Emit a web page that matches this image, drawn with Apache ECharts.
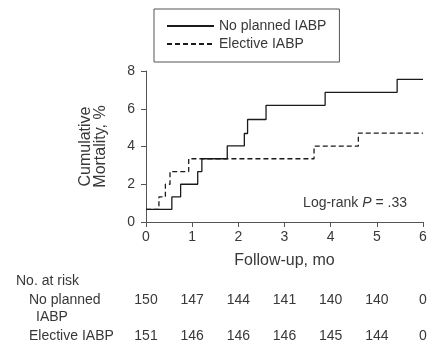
<!DOCTYPE html>
<html>
<head>
<meta charset="utf-8">
<script src="https://cdn.jsdelivr.net/npm/echarts@6/dist/echarts.min.js"></script>
<style>
html,body{margin:0;padding:0;background:#fff;}
#main{width:437px;height:348px;}
</style>
</head>
<body>
<div id="main"></div>
<script>
// Data
const seriesNames = ['No planned IABP', 'Elective IABP'];
const noPlannedTimes = [0, 0.56, 0.75, 1.12, 1.21, 1.76, 2.13, 2.2, 2.6, 3.88, 5.44, 6];
const noPlannedValues = [0.67, 1.33, 2.0, 2.67, 3.35, 4.03, 4.69, 5.43, 6.18, 6.87, 7.56, 7.56];
const electiveTimes = [0, 0.28, 0.42, 0.52, 0.925, 3.64, 4.6, 6];
const electiveValues = [0.67, 1.33, 2.0, 2.67, 3.35, 4.02, 4.71, 4.71];
const riskTimes = [0, 1, 2, 3, 4, 5, 6];
const riskNoPlanned = [150, 147, 144, 141, 140, 140, 0];
const riskElective = [151, 146, 146, 146, 145, 144, 0];
const xTicks = [0, 1, 2, 3, 4, 5, 6];
const yTicks = [0, 2, 4, 6, 8];

const FONT = '"Liberation Sans", Arial, sans-serif';
const TXT = '#383838';

function pairs(t, v) { return t.map((x, i) => [x, v[i]]); }

const chart = echarts.init(document.getElementById('main'), null, { renderer: 'canvas' });

chart.setOption({
  animation: false,
  textStyle: { fontFamily: FONT, color: TXT },
  grid: { left: 146, right: 14, top: 71, bottom: 126, containLabel: false },
  legend: {
    left: 154, top: 9, orient: 'vertical',
    itemGap: 4, itemWidth: 47, itemHeight: 14,
    padding: [10, 13, 11, 12],
    borderColor: '#555', borderWidth: 1,
    itemStyle: { opacity: 0, borderWidth: 0 },
    lineStyle: { opacity: 1 },
    textStyle: { fontFamily: FONT, fontSize: 14, color: TXT },
    data: seriesNames
  },
  xAxis: {
    type: 'value', min: xTicks[0], max: xTicks[xTicks.length - 1], interval: 1,
    name: 'Follow-up, mo', nameLocation: 'middle', nameGap: 31,
    nameTextStyle: { fontFamily: FONT, fontSize: 16, color: TXT },
    axisLine: { lineStyle: { color: '#555', width: 1 } },
    axisTick: { show: true, inside: false, length: 5, lineStyle: { color: '#555' } },
    axisLabel: { fontFamily: FONT, fontSize: 14, color: TXT, margin: 8 },
    splitLine: { show: false }
  },
  yAxis: {
    type: 'value', min: yTicks[0], max: yTicks[yTicks.length - 1], interval: 2,
    offset: 3,
    name: 'Cumulative\nMortality, %', nameLocation: 'middle', nameGap: 35,
    nameTextStyle: { fontFamily: FONT, fontSize: 16, color: TXT, lineHeight: 15 },
    axisLine: { show: true, lineStyle: { color: '#555', width: 1 } },
    axisTick: { show: true, inside: false, length: 5, lineStyle: { color: '#555' } },
    axisLabel: { fontFamily: FONT, fontSize: 14, color: TXT, margin: 8 },
    splitLine: { show: false }
  },
  series: [
    {
      name: seriesNames[0], type: 'line', step: 'end', symbol: 'none',
      lineStyle: { color: '#1a1a1a', width: 1.3, type: 'solid' },
      itemStyle: { color: '#1a1a1a' },
      data: pairs(noPlannedTimes, noPlannedValues)
    },
    {
      name: seriesNames[1], type: 'line', step: 'end', symbol: 'none',
      lineStyle: { color: '#1a1a1a', width: 1.3, type: [5, 3] },
      itemStyle: { color: '#1a1a1a' },
      data: pairs(electiveTimes, electiveValues)
    }
  ]
});

// Risk table and annotation
const graphics = [];
const txt = (x, y, s, align) => ({
  type: 'text', x: x, y: y,
  style: { text: s, fontFamily: FONT, fontSize: 14, fill: TXT, align: align || 'left', verticalAlign: 'middle' }
});
graphics.push(txt(16, 281, 'No. at risk'));
graphics.push(txt(29, 300, 'No planned'));
graphics.push(txt(36, 317, 'IABP'));
graphics.push(txt(29, 336, 'Elective IABP'));
riskTimes.forEach((t, i) => {
  const px = chart.convertToPixel({ xAxisIndex: 0 }, t);
  graphics.push(txt(px, 300, String(riskNoPlanned[i]), 'center'));
  graphics.push(txt(px, 336, String(riskElective[i]), 'center'));
});
graphics.push({
  type: 'text', x: 407, y: 203,
  style: {
    text: '{a|Log-rank }{b|P}{a| = .33}',
    align: 'right', verticalAlign: 'middle',
    rich: {
      a: { fontFamily: FONT, fontSize: 14, fill: TXT, color: TXT },
      b: { fontFamily: FONT, fontSize: 14, fontStyle: 'italic', fill: TXT, color: TXT }
    }
  }
});
chart.setOption({ graphic: graphics });
</script>
</body>
</html>
